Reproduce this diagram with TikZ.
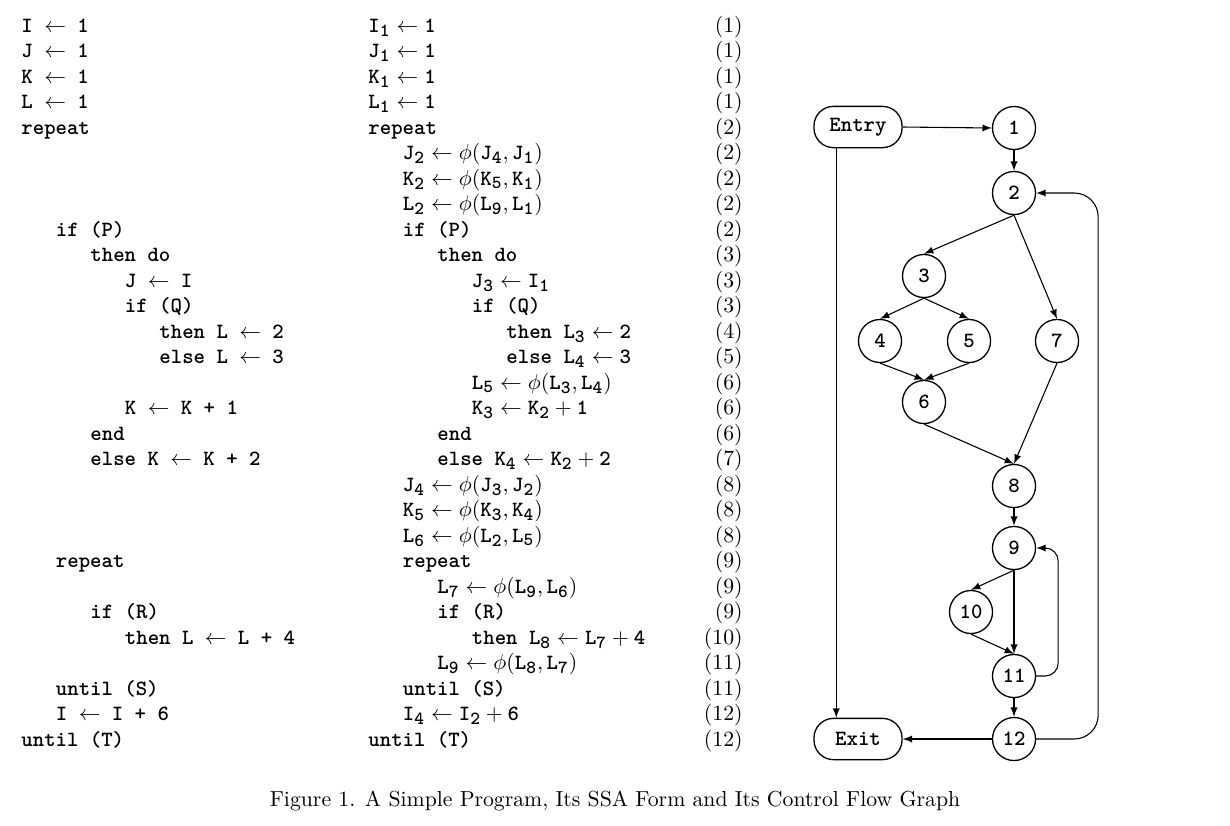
\documentclass[tikz,border=0pt]{standalone}
\usepackage{amsmath}
\usepackage{fontspec}
\usetikzlibrary{math}

\newcommand{\vr}[2]{\text{#1}_{\mbox{\fontsize{8.5pt}{8.5pt}\selectfont #2}}}
\tikzset{
  code/.style={anchor=base west, inner sep=0pt, font=\ttfamily\bfseries},
  eqno/.style={anchor=base east, inner sep=0pt},
  blk/.style={circle, draw, line width=0.6pt, minimum size=19.8pt, inner sep=0pt, font=\ttfamily\bfseries},
  term/.style={rectangle, draw, line width=0.6pt, rounded corners=9pt, minimum width=40.5pt, minimum height=19pt, inner sep=0pt, font=\ttfamily\bfseries},
  edge/.style={-latex, line width=0.5pt}
}

\begin{document}
\begin{tikzpicture}[x=0.46pt, y=-0.46pt]
      \tikzmath{\xl = 21; \xs = 368; \xe = 743; \ind = 34.5; \bl = 32; \pitch = 25.5;}
      \useasboundingbox (0,0) rectangle (1230,825);
      % original program
      \foreach \row/\lev/\txt in {1/0/{I $\leftarrow$ 1}, 2/0/{J $\leftarrow$ 1}, 3/0/{K $\leftarrow$ 1}, 4/0/{L $\leftarrow$ 1},
          5/0/{repeat}, 9/1/{if (P)}, 10/2/{then do}, 11/3/{J $\leftarrow$ I}, 12/3/{if (Q)},
          13/4/{then L $\leftarrow$ 2}, 14/4/{else L $\leftarrow$ 3}, 16/3/{K $\leftarrow$ K + 1}, 17/2/{end},
          18/2/{else K $\leftarrow$ K + 2}, 22/1/{repeat}, 24/2/{if (R)}, 25/3/{then L $\leftarrow$ L + 4},
          27/1/{until (S)}, 28/1/{I $\leftarrow$ I + 6}, 29/0/{until (T)}}
        \node[code] (p\row) at ({\xl+\lev*\ind}, {\bl+(\row-1)*\pitch}) {\txt};
      % SSA form
      \foreach \row/\lev/\txt in {1/0/{$\vr{I}{1}\leftarrow\text{1}$}, 2/0/{$\vr{J}{1}\leftarrow\text{1}$},
          3/0/{$\vr{K}{1}\leftarrow\text{1}$}, 4/0/{$\vr{L}{1}\leftarrow\text{1}$}, 5/0/{repeat},
          6/1/{$\vr{J}{2}\leftarrow\phi(\vr{J}{4},\vr{J}{1})$}, 7/1/{$\vr{K}{2}\leftarrow\phi(\vr{K}{5},\vr{K}{1})$},
          8/1/{$\vr{L}{2}\leftarrow\phi(\vr{L}{9},\vr{L}{1})$}, 9/1/{if (P)}, 10/2/{then do},
          11/3/{$\vr{J}{3}\leftarrow\vr{I}{1}$}, 12/3/{if (Q)}, 13/4/{then $\vr{L}{3}\leftarrow\text{2}$},
          14/4/{else $\vr{L}{4}\leftarrow\text{3}$}, 15/3/{$\vr{L}{5}\leftarrow\phi(\vr{L}{3},\vr{L}{4})$},
          16/3/{$\vr{K}{3}\leftarrow\vr{K}{2}+\text{1}$}, 17/2/{end}, 18/2/{else $\vr{K}{4}\leftarrow\vr{K}{2}+\text{2}$},
          19/1/{$\vr{J}{4}\leftarrow\phi(\vr{J}{3},\vr{J}{2})$}, 20/1/{$\vr{K}{5}\leftarrow\phi(\vr{K}{3},\vr{K}{4})$},
          21/1/{$\vr{L}{6}\leftarrow\phi(\vr{L}{2},\vr{L}{5})$}, 22/1/{repeat},
          23/2/{$\vr{L}{7}\leftarrow\phi(\vr{L}{9},\vr{L}{6})$}, 24/2/{if (R)},
          25/3/{then $\vr{L}{8}\leftarrow\vr{L}{7}+\text{4}$}, 26/2/{$\vr{L}{9}\leftarrow\phi(\vr{L}{8},\vr{L}{7})$},
          27/1/{until (S)}, 28/1/{$\vr{I}{4}\leftarrow\vr{I}{2}+\text{6}$}, 29/0/{until (T)}}
        \node[code] (s\row) at ({\xs+\lev*\ind}, {\bl+(\row-1)*\pitch}) {\txt};
      \foreach \n [count=\row] in {1,1,1,1,2,2,2,2,2,3,3,3,4,5,6,6,6,7,8,8,8,9,9,9,10,11,11,12,12}
        \node[eqno] (e\row) at (\xe, {\bl+(\row-1)*\pitch}) {(\n)};
      % control flow graph
      \node[term] (entry) at (858,127) {Entry};
      \node[term] (exit) at (858,739) {Exit};
      \node[blk] (n1) at (1014,128) {1};
      \node[blk] (n2) at (1014,193) {2};
      \node[blk] (n3) at (924,276) {3};
      \node[blk] (n4) at (880,341) {4};
      \node[blk] (n5) at (969,341) {5};
      \node[blk] (n7) at (1057,341) {7};
      \node[blk] (n6) at (924,402) {6};
      \node[blk] (n8) at (1014,486) {8};
      \node[blk] (n9) at (1014,548) {9};
      \node[blk] (n10) at (971,612) {10};
      \node[blk] (n11) at (1014,676) {11};
      \node[blk] (n12) at (1014,739) {12};
      \draw[edge] (entry.east) -- (n1.west);
      \draw[edge] ([xshift=-10pt]entry.south) -- ([xshift=-10pt]exit.north);
      \foreach \a/\b in {1/2,2/3,2/7,3/4,3/5,4/6,5/6,6/8,7/8,8/9,9/10,9/11,10/11,11/12}
        \draw[edge] (n\a.south) -- (n\b.north);
      \draw[edge] (n12.west) -- (exit.east);
      \draw[edge, rounded corners=6pt] (n11.east) -- ++(22,0) |- (n9.east);
      \draw[edge, rounded corners=11pt] (n12.east) -- ++(62,0) |- (n2.east);
      \node[anchor=base] (cap) at (615,806) {Figure 1. A Simple Program, Its SSA Form and Its Control Flow Graph};
\end{tikzpicture}
\end{document}
